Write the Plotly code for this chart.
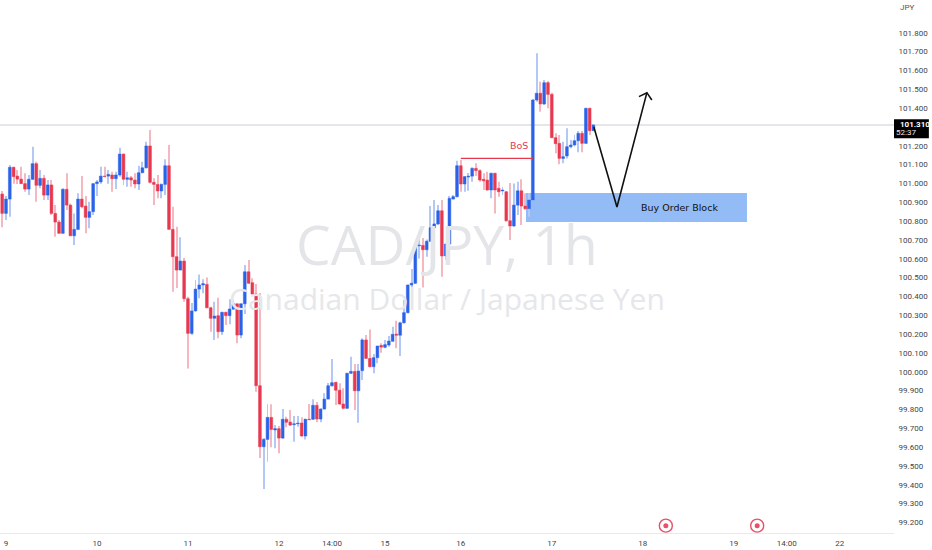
import plotly.graph_objects as go

bar_index = list(range(-1, 156))
opens = [100.944,100.841,100.917,101.086,101.039,101.023,100.999,100.970,101.022,101.105,
100.990,101.027,100.938,100.992,100.841,100.795,100.735,100.969,100.885,100.722,
100.756,100.917,100.880,100.820,100.850,100.999,101.008,101.039,101.039,101.045,
101.025,101.045,101.156,101.022,101.030,101.018,100.997,101.057,101.083,101.199,
101.006,100.995,100.960,100.995,101.094,100.756,100.611,100.540,100.588,100.388,
100.204,100.323,100.439,100.461,100.464,100.340,100.284,100.298,100.213,100.316,
100.298,100.333,100.361,100.195,100.361,100.531,100.473,100.413,99.926,99.602,
99.641,99.758,99.691,99.698,99.648,99.748,99.733,99.719,99.724,99.728,
99.659,99.748,99.748,99.822,99.749,99.802,99.855,99.926,99.944,99.902,
99.829,99.806,99.992,100.002,99.899,100.006,100.169,100.071,100.027,100.075,
100.140,100.130,100.142,100.162,100.200,100.194,100.260,100.314,100.461,100.470,
100.669,100.671,100.648,100.693,100.765,100.785,100.855,100.615,100.678,100.917,
100.930,101.094,100.997,101.034,101.039,101.080,101.068,101.022,101.018,100.965,
101.054,100.974,100.960,100.956,100.802,100.774,100.885,100.961,100.880,100.866,
100.912,101.443,101.479,101.422,101.535,101.473,101.243,101.213,101.133,101.146,
101.195,101.204,101.227,101.266,101.213,101.399,101.280]
highs = [100.960,100.933,101.098,101.089,101.071,101.089,101.054,101.045,101.195,101.115,
101.071,101.045,101.018,101.018,100.885,100.806,100.974,101.054,100.894,100.841,
100.948,101.039,100.933,100.903,101.000,101.018,101.089,101.089,101.071,101.062,
101.062,101.190,101.160,101.062,101.039,101.054,101.094,101.115,101.222,101.284,
101.027,101.045,101.000,101.128,101.204,100.876,100.770,100.714,100.604,100.399,
100.365,100.487,100.517,100.491,100.501,100.345,100.372,100.393,100.319,100.319,
100.385,100.381,100.363,100.363,100.567,100.593,100.496,100.466,100.418,99.648,
99.827,99.827,99.717,99.712,99.802,99.761,99.797,99.765,99.765,99.758,
99.751,99.829,99.854,99.839,99.806,99.886,99.940,100.068,99.947,99.939,
99.912,99.995,100.080,100.041,100.041,100.178,100.195,100.225,100.094,100.137,
100.151,100.169,100.190,100.239,100.271,100.266,100.381,100.462,100.546,100.673,
100.709,100.710,100.703,100.880,100.912,100.885,100.912,100.682,100.933,100.938,
101.121,101.124,101.039,101.055,101.086,101.107,101.075,101.054,101.062,101.057,
101.057,101.009,100.983,100.960,101.002,101.000,101.009,101.022,100.948,100.949,
101.448,101.691,101.540,101.549,101.544,101.482,101.266,101.257,101.222,101.293,
101.231,101.257,101.278,101.278,101.402,101.402,101.315]
lows = [100.767,100.806,100.823,100.999,100.997,100.997,100.956,100.938,101.018,100.903,
100.974,100.912,100.912,100.832,100.717,100.735,100.735,100.859,100.722,100.673,
100.753,100.868,100.735,100.762,100.832,100.933,100.999,101.033,100.999,100.956,
100.970,101.036,100.992,100.983,100.983,100.974,100.965,101.054,101.080,101.000,
100.885,100.921,100.921,100.938,100.756,100.425,100.445,100.540,100.372,100.018,
100.195,100.319,100.390,100.417,100.337,100.213,100.169,100.178,100.195,100.248,
100.252,100.328,100.151,100.178,100.307,100.466,100.411,99.894,99.542,99.377,
99.522,99.599,99.594,99.567,99.645,99.705,99.712,99.629,99.708,99.655,
99.641,99.744,99.744,99.732,99.732,99.801,99.854,99.921,99.823,99.823,
99.801,99.802,99.988,99.797,99.729,99.956,100.068,100.024,99.992,100.045,
100.101,100.125,100.133,100.160,100.125,100.084,100.257,100.310,100.448,100.466,
100.602,100.448,100.611,100.691,100.762,100.779,100.505,100.593,100.673,100.916,
100.926,100.956,100.956,100.961,101.009,101.039,101.009,100.965,100.961,100.921,
100.841,100.930,100.938,100.797,100.700,100.770,100.832,100.779,100.859,100.823,
100.907,101.434,101.381,101.416,101.399,101.240,101.160,101.102,101.107,101.133,
101.187,101.195,101.165,101.165,101.209,101.257,101.278]
closes = [100.841,100.917,101.086,101.036,101.023,100.999,100.970,101.022,101.105,100.990,
101.027,100.938,100.992,100.841,100.795,100.735,100.969,100.885,100.722,100.756,
100.917,100.876,100.820,100.850,100.999,101.008,101.039,101.036,101.048,101.025,
101.045,101.156,101.022,101.030,101.018,100.997,101.057,101.083,101.199,101.006,
100.995,100.960,100.995,101.094,100.756,100.611,100.540,100.588,100.388,100.204,
100.323,100.439,100.461,100.468,100.340,100.284,100.296,100.213,100.316,100.298,
100.333,100.361,100.195,100.361,100.531,100.470,100.413,99.926,99.602,99.641,
99.758,99.694,99.698,99.648,99.748,99.732,99.717,99.724,99.728,99.659,
99.748,99.745,99.822,99.749,99.802,99.855,99.926,99.942,99.902,99.829,
99.806,99.992,100.002,99.899,100.004,100.169,100.071,100.027,100.075,100.137,
100.131,100.144,100.163,100.199,100.194,100.260,100.314,100.461,100.470,100.669,
100.673,100.648,100.693,100.765,100.785,100.855,100.615,100.678,100.921,100.930,
101.094,100.997,101.036,101.039,101.080,101.068,101.018,101.014,100.965,101.054,
100.965,100.956,100.965,100.802,100.774,100.885,100.961,100.880,100.866,100.912,
101.443,101.479,101.422,101.535,101.473,101.243,101.211,101.133,101.142,101.195,
101.204,101.227,101.266,101.213,101.399,101.280,101.310]

x_tick_vals = [0, 24, 48, 72, 86, 100, 120, 144, 168, 192, 206, 220]
x_tick_text = ["9", "10", "11", "12", "14:00", "15", "16", "17", "18", "19", "14:00", "22"]
y_tick_vals = [99.2, 99.3, 99.4, 99.5, 99.6, 99.7, 99.8, 99.9, 100.0, 100.1, 100.2, 100.3, 100.4,
               100.5, 100.6, 100.7, 100.8, 100.9, 101.0, 101.1, 101.2, 101.4, 101.5, 101.6, 101.7, 101.8]
y_tick_text = [f"{v:.3f}" for v in y_tick_vals]

last_price = 101.310
zone_x = [137.2, 195.5]
zone_y = [100.795, 100.949]
bos_x = [120, 139]
bos_y = [101.133, 101.133]
path_x = [155.1, 161.2, 169.1]
path_y = [101.300, 100.875, 101.482]
head_x = [167.0, 169.1, 170.4]
head_y = [101.461, 101.482, 101.443]
event_x = [174.1, 198.2]
event_y = [99.183, 99.183]

RED = "#e63950"
BLUE = "#2b62e8"
RED_W = "#f6b8c0"
BLUE_W = "#b4c8f6"
FONT = "DejaVu Sans"
SMALL = "Roboto"

fig = go.Figure()
up = [i for i in range(len(opens)) if closes[i] >= opens[i]]
dn = [i for i in range(len(opens)) if closes[i] < opens[i]]

for idx, col in ((up, BLUE_W), (dn, RED_W)):
    fig.add_trace(go.Bar(
        x=[bar_index[i] for i in idx],
        y=[highs[i] - lows[i] for i in idx],
        base=[lows[i] for i in idx],
        width=0.26, marker=dict(color=col, line=dict(width=0)),
        showlegend=False, hoverinfo="skip"))
for idx, col in ((up, BLUE), (dn, RED)):
    fig.add_trace(go.Bar(
        x=[bar_index[i] for i in idx],
        y=[abs(closes[i] - opens[i]) for i in idx],
        base=[min(opens[i], closes[i]) for i in idx],
        width=0.74, marker=dict(color=col, line=dict(color=col, width=0.5)),
        showlegend=False, hoverinfo="skip"))

fig.add_trace(go.Scatter(x=bos_x, y=bos_y, mode="lines", line=dict(color=RED, width=1.3),
                         showlegend=False, hoverinfo="skip"))
fig.add_trace(go.Scatter(x=path_x, y=path_y, mode="lines", line=dict(color="#111111", width=1.6),
                         showlegend=False, hoverinfo="skip"))
fig.add_trace(go.Scatter(x=head_x, y=head_y, mode="lines", line=dict(color="#111111", width=1.6),
                         showlegend=False, hoverinfo="skip"))
fig.add_trace(go.Scatter(x=event_x, y=event_y, mode="markers",
                         marker=dict(symbol="circle-open", size=13, color="#e8506a", line=dict(width=1.4)),
                         showlegend=False, hoverinfo="skip", cliponaxis=False))
fig.add_trace(go.Scatter(x=event_x, y=event_y, mode="markers",
                         marker=dict(symbol="circle", size=5, color="#e8506a"),
                         showlegend=False, hoverinfo="skip", cliponaxis=False))

shapes = [
    dict(type="rect", layer="below", xref="x", yref="y", x0=zone_x[0], x1=zone_x[1], y0=zone_y[0], y1=zone_y[1],
         fillcolor="#93bbf6", line=dict(width=0)),
    dict(type="line", layer="below", xref="paper", yref="y", x0=0, x1=1, y0=last_price, y1=last_price,
         line=dict(color="#dcdee2", width=1.4)),
    dict(type="rect", layer="below", xref="paper", yref="y", x0=1.0, x1=1.039, y0=101.240, y1=101.341,
         fillcolor="#000000", line=dict(width=0)),
]
annotations = [
    dict(text="CAD/JPY, 1h", xref="paper", yref="paper", x=447 / 894, y=1 - 243 / 533, showarrow=False,
         xanchor="center", yanchor="middle", font=dict(family="Open Sans", size=55, color="#e3e5e8")),
    dict(text="Canadian Dollar / Japanese Yen", xref="paper", yref="paper", x=447 / 894, y=1 - 298 / 533,
         showarrow=False, xanchor="center", yanchor="middle", font=dict(family="Open Sans", size=30, color="#e6e7ea")),
    dict(text="BoS", x=135.4, y=101.199, showarrow=False, xanchor="center", yanchor="middle",
         font=dict(family=FONT, size=9.5, color=RED)),
    dict(text="Buy Order Block", x=177.6, y=100.870, showarrow=False, xanchor="center", yanchor="middle",
         font=dict(family=FONT, size=9.5, color="#111111")),
    dict(text="<b>101.310</b>", xref="paper", yref="paper", x=898 / 894, y=1 - 124.5 / 533, showarrow=False,
         xanchor="left", yanchor="middle", font=dict(family=SMALL, size=8, color="#ffffff")),
    dict(text="52:37", xref="paper", yref="paper", x=894 / 894, y=1 - 133 / 533, showarrow=False,
         xanchor="left", yanchor="middle", font=dict(family=SMALL, size=8, color="#e8e8e8")),
    dict(text="JPY", xref="paper", yref="paper", x=907 / 894, y=1 - 7 / 533, showarrow=False,
         xanchor="center", yanchor="middle", font=dict(family=SMALL, size=8, color="#555555")),
]

fig.update_layout(
    width=932, height=550, margin=dict(l=0, r=38, t=0, b=17),
    paper_bgcolor="#ffffff", plot_bgcolor="#ffffff", barmode="overlay", showlegend=False,
    shapes=shapes, annotations=annotations,
    xaxis=dict(range=[-1.583, 234.3], automargin=False, showgrid=False, zeroline=False,
               tickmode="array", tickvals=x_tick_vals, ticktext=x_tick_text, ticks="outside", ticklen=2,
               tickcolor="rgba(0,0,0,0)", tickangle=0, showline=True, linecolor="#e8e9eb", linewidth=1,
               tickfont=dict(family=SMALL, size=8, color="#444444")),
    yaxis=dict(range=[99.144, 101.974], automargin=False, side="right", showgrid=False, zeroline=False, showline=False,
               tickmode="array", tickvals=y_tick_vals, ticktext=y_tick_text, ticks="outside", ticklen=2,
               tickcolor="rgba(0,0,0,0)", tickfont=dict(family=SMALL, size=8, color="#444444")),
)

fig.write_html("out.html", config=dict(displayModeBar=False),
               post_script="document.documentElement.style.overflow='hidden';document.body.style.margin='0';document.body.style.overflow='hidden';")
